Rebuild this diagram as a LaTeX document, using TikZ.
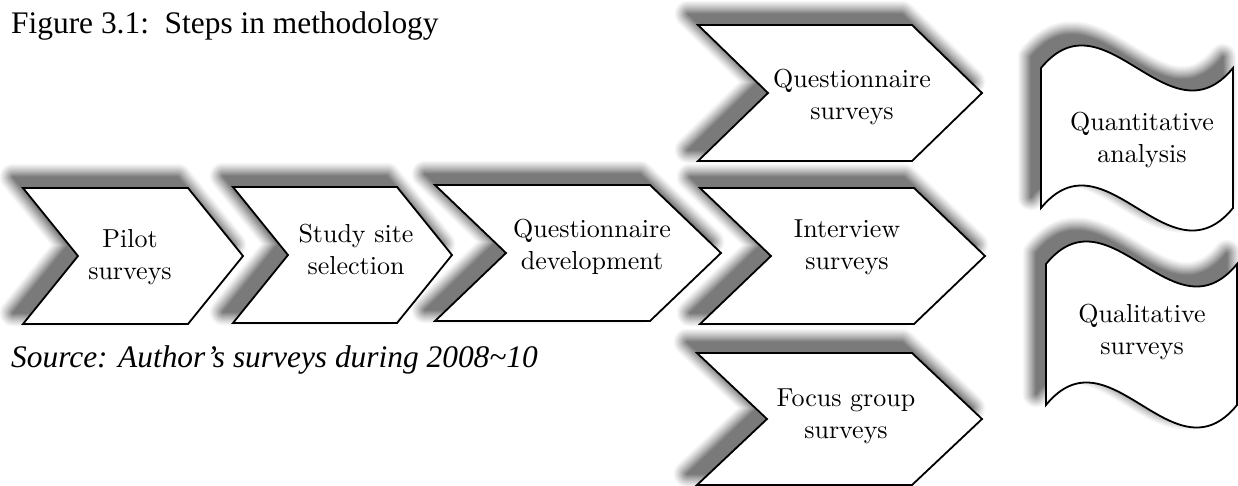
\documentclass[tikz,border=0pt]{standalone}
\usepackage{fontspec}
\newfontfamily\capfont{Liberation Serif}
\newfontfamily\boxfont{lmroman10-regular.otf}
\tikzset{
  shp/.style={draw=black, fill=white, line width=1.8pt, line join=miter},
  lbl/.style={align=center, inner sep=0pt, font=\boxfont\fontsize{26}{32}\selectfont},
  captxt/.style={inner sep=0pt, anchor=base west, font=\capfont\fontsize{31.4}{38}\selectfont},
  shoff/.style={shift={(-10,-11)}}
}
% chevron: #1 style, #2 x, #3 y (top-left), #4 top width, #5 height, #6 point depth
\newcommand\chevp[6]{\draw[#1] (#2,#3) -- ++(#4,0) -- ++(#6,#5/2) -- ++(-#6,#5/2) -- ++(-#4,0) -- ++(#6,-#5/2) -- cycle;}
% wave: #1 style, #2 left x, #3 width, #4 top y, #5 bottom y, #6 control offset
\newcommand\wavep[6]{\draw[#1] (#2,#4) .. controls +(#3/3,-#6) and +(-#3/3,#6) .. ++(#3,0) -- (#2+#3,#5) .. controls +(-#3/3,#6) and +(#3/3,-#6) .. (#2,#5) -- cycle;}
\newcommand\chevshadow[5]{%
  \foreach \k in {14,...,1}{%
    \pgfmathsetmacro\pc{52*(1-(\k-0.5)/14)^1.2}%
    \chevp{draw=black!\pc, line width=2*\k, line join=round, shoff}{#1}{#2}{#3}{#4}{#5}}%
  \chevp{fill=black!52, draw=none, shoff}{#1}{#2}{#3}{#4}{#5}}
\newcommand\waveshadow[5]{%
  \foreach \k in {14,...,1}{%
    \pgfmathsetmacro\pc{52*(1-(\k-0.5)/14)^1.2}%
    \wavep{draw=black!\pc, line width=2*\k, line join=round, shoff}{#1}{#2}{#3}{#4}{#5}}%
  \wavep{fill=black!52, draw=none, shoff}{#1}{#2}{#3}{#4}{#5}}
\begin{document}
\begin{tikzpicture}[x=1pt, y=-1pt]
\useasboundingbox (0,0) rectangle (1238,485);
% shadows
\chevshadow{23}{188}{165}{136}{55}
\chevshadow{233}{187}{164}{136}{55}
\chevshadow{435}{185}{215}{136}{71}
\chevshadow{698}{25}{214}{136}{70}
\chevshadow{700}{188}{214}{136}{71}
\chevshadow{697}{353}{215}{132}{70}
\waveshadow{1041}{192}{68}{208}{78}
\waveshadow{1046}{191}{264}{405}{78}
% shapes
\chevp{shp}{23}{188}{165}{136}{55}
\chevp{shp}{233}{187}{164}{136}{55}
\chevp{shp}{435}{185}{215}{136}{71}
\chevp{shp}{698}{25}{214}{136}{70}
\chevp{shp}{700}{188}{214}{136}{71}
\chevp{shp}{697}{353}{215}{132}{70}
\wavep{shp}{1041}{192}{68}{208}{78}
\wavep{shp}{1046}{191}{264}{405}{78}
% labels
\node[lbl] (pilot) at (130,257.5) {Pilot\\surveys};
\node[lbl] (site) at (356,249) {Study site\\selection};
\node[lbl] (qdev) at (592,246.5) {Questionnaire\\development};
\node[lbl] (qsurv) at (852,96.5) {Questionnaire\\surveys};
\node[lbl] (isurv) at (847,247.5) {Interview\\surveys};
\node[lbl] (fsurv) at (846,416.5) {Focus group\\surveys};
\node[lbl] (quant) at (1142,139.5) {Quantitative\\analysis};
\node[lbl] (qual) at (1142,331.5) {Qualitative\\surveys};
\node[captxt] (title) at (11,33) {Figure 3.1:\ \ Steps in methodology};
\node[captxt] (source) at (11,367) {\itshape Source: Author’s surveys during 2008\char"007E 10};
\end{tikzpicture}
\end{document}
